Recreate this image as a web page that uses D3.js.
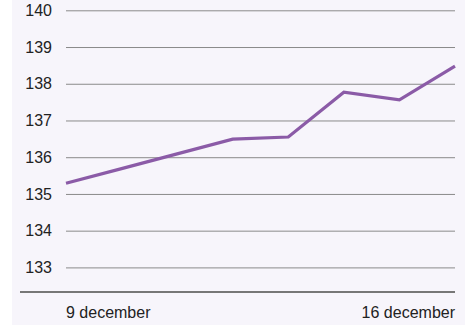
<!DOCTYPE html>
<html>
<head>
<meta charset="utf-8">
<script src="https://cdn.jsdelivr.net/npm/d3@7"></script>
<style>
  body { margin: 0; background: #ffffff; }
  svg { display: block; font-family: "Liberation Sans", Arial, sans-serif; }
</style>
</head>
<body>
<div id="chart"></div>
<script>
// data
var days = ['9 december', '10 december', '11 december', '12 december',
            '13 december', '14 december', '15 december', '16 december'];
var values = [135.29, 135.69, 136.09, 136.49, 136.55, 137.77, 137.56, 138.48];
var yTicks = [133, 134, 135, 136, 137, 138, 139, 140];
var xLabels = ['9 december', '16 december'];

var width = 470;
var height = 325;

var svg = d3.select('#chart')
    .append('svg')
    .attr('width', width)
    .attr('height', height);

// lavender panel
svg.append('rect')
    .attr('x', 12)
    .attr('y', 0)
    .attr('width', 453)
    .attr('height', height)
    .attr('fill', '#f7f5fb');

var scaleX = d3.scalePoint()
    .domain(days)
    .range([66, 455]);

var scaleY = d3.scaleLinear()
    .domain([132.33, 140])
    .range([292, 10.3]);

// y axis: labels + grid lines
var yAxis = d3.axisLeft(scaleY)
    .tickValues(yTicks)
    .tickSize(-(455 - 66))
    .tickPadding(14)
    .tickFormat(d3.format('d'));

var gy = svg.append('g')
    .attr('transform', 'translate(66,0)')
    .call(yAxis);
gy.select('.domain').remove();
gy.selectAll('.tick line')
    .attr('stroke', '#8a8a8a')
    .attr('stroke-width', 1);
gy.selectAll('.tick text')
    .attr('fill', '#222')
    .attr('font-size', 16)
    .attr('font-family', '"Liberation Sans", Arial, sans-serif');

// bottom axis line
svg.append('line')
    .attr('x1', 20)
    .attr('x2', 455)
    .attr('y1', scaleY(132.33))
    .attr('y2', scaleY(132.33))
    .attr('stroke', '#777')
    .attr('stroke-width', 2);

// x labels, first left-aligned, last right-aligned
svg.append('g')
    .selectAll('text')
    .data(xLabels)
    .enter()
    .append('text')
    .attr('x', (d) => scaleX(d))
    .attr('y', 318)
    .attr('text-anchor', (d, i) => i === 0 ? 'start' : 'end')
    .attr('fill', '#222')
    .attr('font-size', 16)
    .text((d) => d);

// the line
var line = d3.line()
    .x((d, i) => scaleX(days[i]))
    .y((d) => scaleY(d));

svg.append('path')
    .datum(values)
    .attr('d', line)
    .attr('fill', 'none')
    .attr('stroke', '#8b5ba7')
    .attr('stroke-width', 3.2)
    .attr('stroke-linejoin', 'miter');
</script>
</body>
</html>
